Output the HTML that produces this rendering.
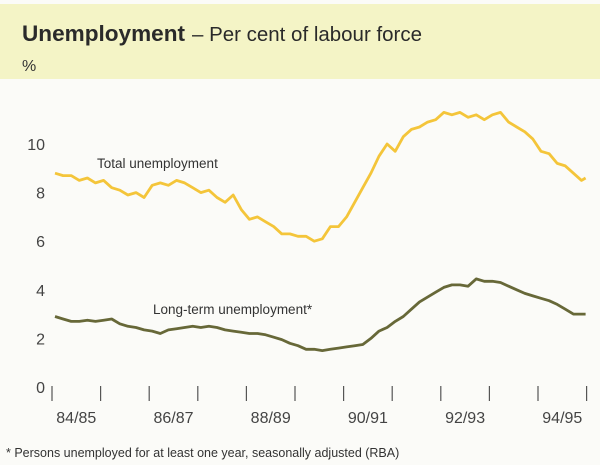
<!DOCTYPE html>
<html><head><meta charset="utf-8"><style>
body{margin:0;background:#fbfbf8;}
svg{display:block;font-family:"Liberation Sans",sans-serif;}
</style></head><body>
<svg id="chart" width="600" height="465" viewBox="0 0 600 465" xmlns="http://www.w3.org/2000/svg">
<rect x="0" y="0" width="600" height="465" fill="#fbfbf8"/>
<rect x="0" y="4" width="600" height="75" fill="#f4f4c6"/>
<text x="22" y="41" font-size="22" font-weight="bold" fill="#2a2a2a" textLength="163" lengthAdjust="spacingAndGlyphs">Unemployment</text>
<text x="192" y="41" font-size="20" fill="#2a2a2a" textLength="230" lengthAdjust="spacingAndGlyphs">– Per cent of labour force</text>
<text x="22" y="71" font-size="16" fill="#333">%</text>
<g id="yaxis"></g>
<g id="xaxis"></g>
<g id="series"></g>
<text x="97" y="168" font-size="13.5" fill="#333">Total unemployment</text>
<text x="153" y="314" font-size="13.5" fill="#333">Long-term unemployment*</text>
<text x="6" y="457" font-size="12.5" fill="#333">* Persons unemployed for at least one year, seasonally adjusted (RBA)</text>
</svg>
<script>
const yTicks=[0,2,4,6,8,10];
const xLabels=["84/85","86/87","88/89","90/91","92/93","94/95"];
const yearCount=11;
const monthIdx=[0,2,4,6,8,10,12,14,16,18,20,22,24,26,28,30,32,34,36,38,40,42,44,46,48,50,52,54,56,58,60,62,64,66,68,70,72,74,76,78,80,82,84,86,88,90,92,94,96,98,100,102,104,106,108,110,112,114,116,118,120,122,124,126,128,130,131];
const totalValues=[8.8,8.7,8.7,8.5,8.6,8.4,8.5,8.2,8.1,7.9,8.0,7.8,8.3,8.4,8.3,8.5,8.4,8.2,8.0,8.1,7.8,7.6,7.9,7.3,6.9,7.0,6.8,6.6,6.3,6.3,6.2,6.2,6.0,6.1,6.6,6.6,7.0,7.6,8.2,8.8,9.5,10.0,9.7,10.3,10.6,10.7,10.9,11.0,11.3,11.2,11.3,11.1,11.2,11.0,11.2,11.3,10.9,10.7,10.5,10.2,9.7,9.6,9.2,9.1,8.8,8.5,8.6];
const longTermValues=[2.9,2.8,2.7,2.7,2.75,2.7,2.75,2.8,2.6,2.5,2.45,2.35,2.3,2.2,2.35,2.4,2.45,2.5,2.45,2.5,2.45,2.35,2.3,2.25,2.2,2.2,2.15,2.05,1.95,1.8,1.7,1.55,1.55,1.5,1.55,1.6,1.65,1.7,1.75,2.0,2.3,2.45,2.7,2.9,3.2,3.5,3.7,3.9,4.1,4.2,4.2,4.15,4.45,4.35,4.35,4.3,4.15,4.0,3.85,3.75,3.65,3.55,3.4,3.2,3.0,3.0,3.0];

const NS="http://www.w3.org/2000/svg";
const x0=52, yearW=48.6;
function xScale(m){return x0+(m+0.75)*yearW/12;}
function yScale(v){return 387-v*24.3;}
function mk(tag,attrs,parent){const e=document.createElementNS(NS,tag);for(const k in attrs)e.setAttribute(k,attrs[k]);parent.appendChild(e);return e;}

const ya=document.getElementById('yaxis');
yTicks.forEach(v=>{
  const t=mk('text',{x:45,y:yScale(v)+6,'font-size':16,fill:'#444','text-anchor':'end'},ya);
  t.textContent=v;
  
  
});
const xa=document.getElementById('xaxis');
for(let i=0;i<=yearCount;i++){
  const x=x0+i*yearW;
  const l=mk('line',{x1:x,x2:x,y1:386,y2:401,stroke:'#555','stroke-width':1.2},xa);
  
  
}
xLabels.forEach((s,i)=>{
  const t=mk('text',{x:x0+(2*i+0.5)*yearW,y:423,'font-size':16,fill:'#444','text-anchor':'middle'},xa);
  t.textContent=s;
  
  
});
const sg=document.getElementById('series');
function line(vals,color,name){
  const d=vals.map((v,i)=>(i?'L':'M')+xScale(monthIdx[i]).toFixed(1)+' '+yScale(v).toFixed(1)).join(' ');
  const p=mk('path',{d:d,fill:'none',stroke:color,'stroke-width':2.8,'stroke-linejoin':'round'},sg);
  
  
}
line(totalValues,'#f4c53a','total-unemployment-line');
line(longTermValues,'#676838','long-term-unemployment-line');
</script>
</body></html>
